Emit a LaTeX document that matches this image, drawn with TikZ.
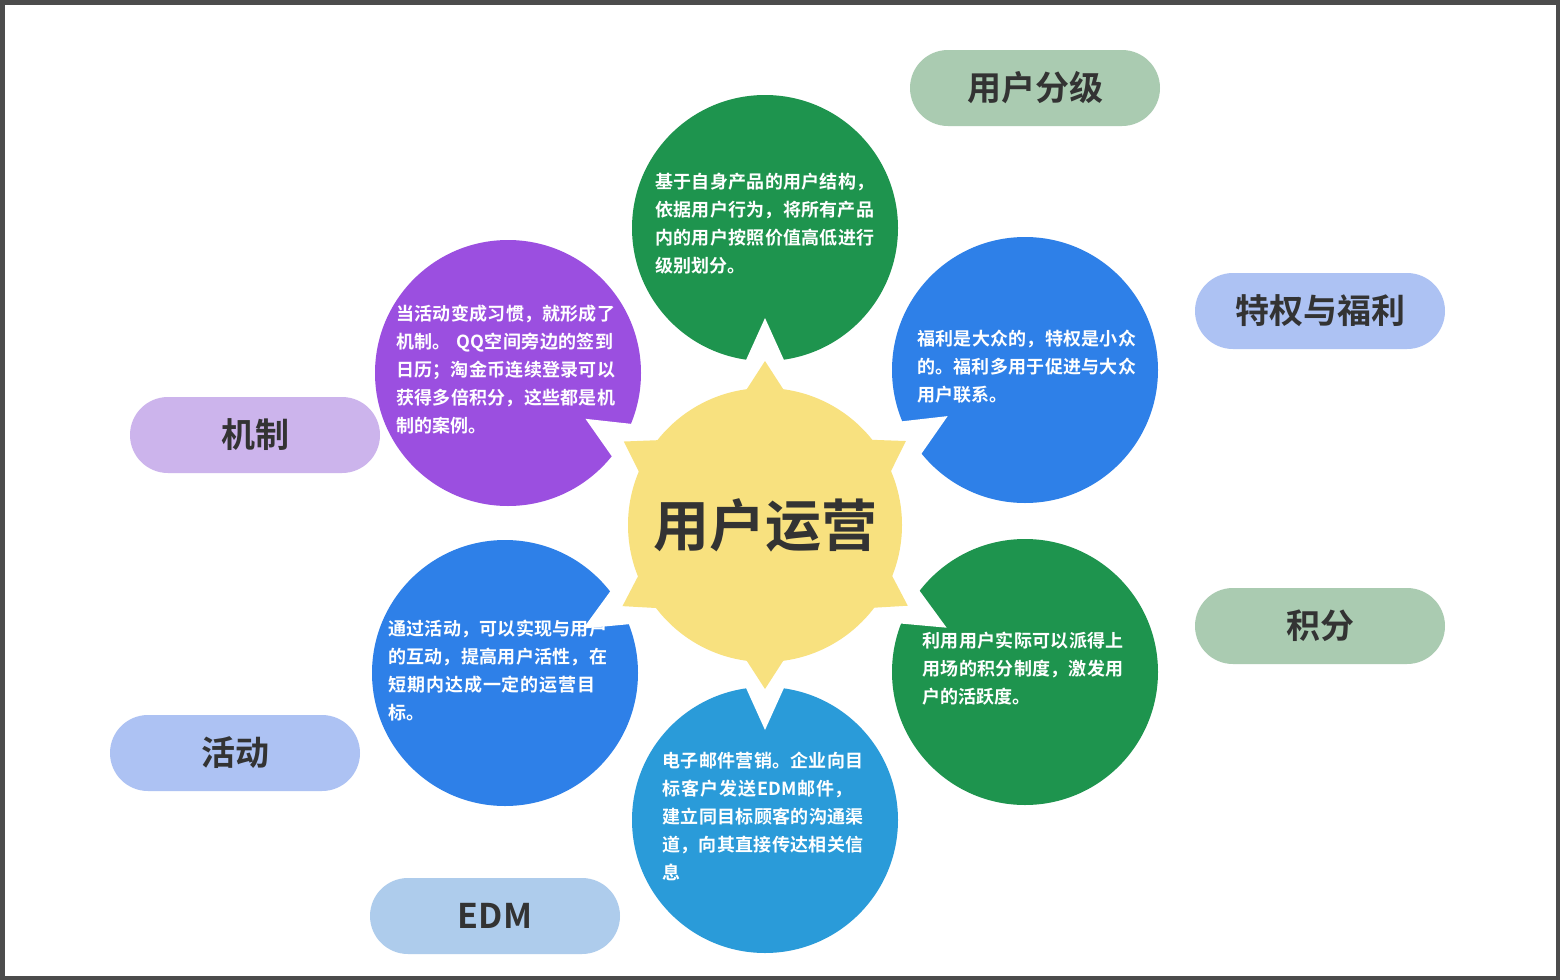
\documentclass[tikz,border=0pt]{standalone}
\usepackage{fontspec}
\setmainfont{Noto Sans CJK SC}[BoldFont={Noto Sans CJK SC Bold}]
\XeTeXlinebreaklocale "zh"
\XeTeXlinebreakskip=0pt plus 1pt
\usetikzlibrary{calc}
\definecolor{sun}{HTML}{F8E17F}
\definecolor{gA}{HTML}{1E944E}
\definecolor{bA}{HTML}{2E80E8}
\definecolor{bB}{HTML}{2A9BD9}
\definecolor{pA}{HTML}{9B4FE0}
\definecolor{pillG}{HTML}{AACBB1}
\definecolor{pillB}{HTML}{ADC2F3}
\definecolor{pillE}{HTML}{AECCEC}
\definecolor{pillP}{HTML}{CCB4EC}
\tikzset{
 bub/.style={circle,minimum size=133pt,inner sep=0pt},
 txt/.style={text=white,font=\fontsize{9}{14}\selectfont\bfseries,align=left,text width=#1,inner sep=0pt},
 pill/.style={rounded corners=19pt,minimum width=125pt,minimum height=38pt,font=\fontsize{17}{20}\selectfont\bfseries,text=black!80},
}
\begin{document}
\begin{tikzpicture}[x=0.5pt,y=-0.5pt]
\useasboundingbox (0,0) rectangle (1560,980);
\fill[white] (0,0) rectangle (1560,980);
\draw[line width=2.5pt,black!70] (2,2) rectangle (1558,978);
\coordinate (S) at (765,525);
\node[bub,fill=gA] (b1) at (765,228) {};
\node[bub,fill=bA] (b2) at (1025,370) {};
\node[bub,fill=gA] (b3) at (1025,672) {};
\node[bub,fill=bB] (b4) at (765,820) {};
\node[bub,fill=bA] (b5) at (505,673) {};
\node[bub,fill=pA] (b6) at (508,373) {};
\foreach \b in {b1,b2,b3,b4,b5,b6}{
 \fill[white] ($(\b.center)!45pt!(S)$) -- ($(\b.center)!75pt!10:(S)$) -- ($(\b.center)!75pt!-10:(S)$) -- cycle;
 \fill[sun] ($(S)!82pt!(\b.center)$) -- ($(S)!62pt!13:(\b.center)$) -- ($(S)!62pt!-13:(\b.center)$) -- cycle;
}
\node[circle,fill=sun,minimum size=137pt,inner sep=0pt,font=\fontsize{28}{30}\selectfont\bfseries,text=black!80] (sunc) at (S) {用户运营};
\node[txt=112pt,anchor=north west] (t1) at (655,173) {基于自身产品的用户结构，依据用户行为，将所有产品内的用户按照价值高低进行级别划分。};
\node[txt=112pt,anchor=north west] (t2) at (917,330) {福利是大众的，特权是小众的。福利多用于促进与大众用户联系。};
\node[txt=104pt,anchor=north west] (t3) at (922,632) {利用用户实际可以派得上用场的积分制度，激发用户的活跃度。};
\node[txt=104pt,anchor=north west] (t4) at (662,752) {电子邮件营销。企业向目标客户发送EDM邮件，建立同目标顾客的沟通渠道，向其直接传达相关信息};
\node[txt=112pt,anchor=north west] (t5) at (388,620) {通过活动，可以实现与用户的互动，提高用户活性，在短期内达成一定的运营目标。};
\node[txt=112pt,anchor=north west] (t6) at (396,305) {当活动变成习惯，就形成了机制。 QQ空间旁边的签到日历；淘金币连续登录可以获得多倍积分，这些都是机制的案例。};
\node[pill,fill=pillG] (p1) at (1035,88) {用户分级};
\node[pill,fill=pillB] (p2) at (1320,311) {特权与福利};
\node[pill,fill=pillG] (p3) at (1320,626) {积分};
\node[pill,fill=pillE] (p4) at (495,916) {EDM};
\node[pill,fill=pillB] (p5) at (235,753) {活动};
\node[pill,fill=pillP] (p6) at (255,435) {机制};
\end{tikzpicture}
\end{document}
